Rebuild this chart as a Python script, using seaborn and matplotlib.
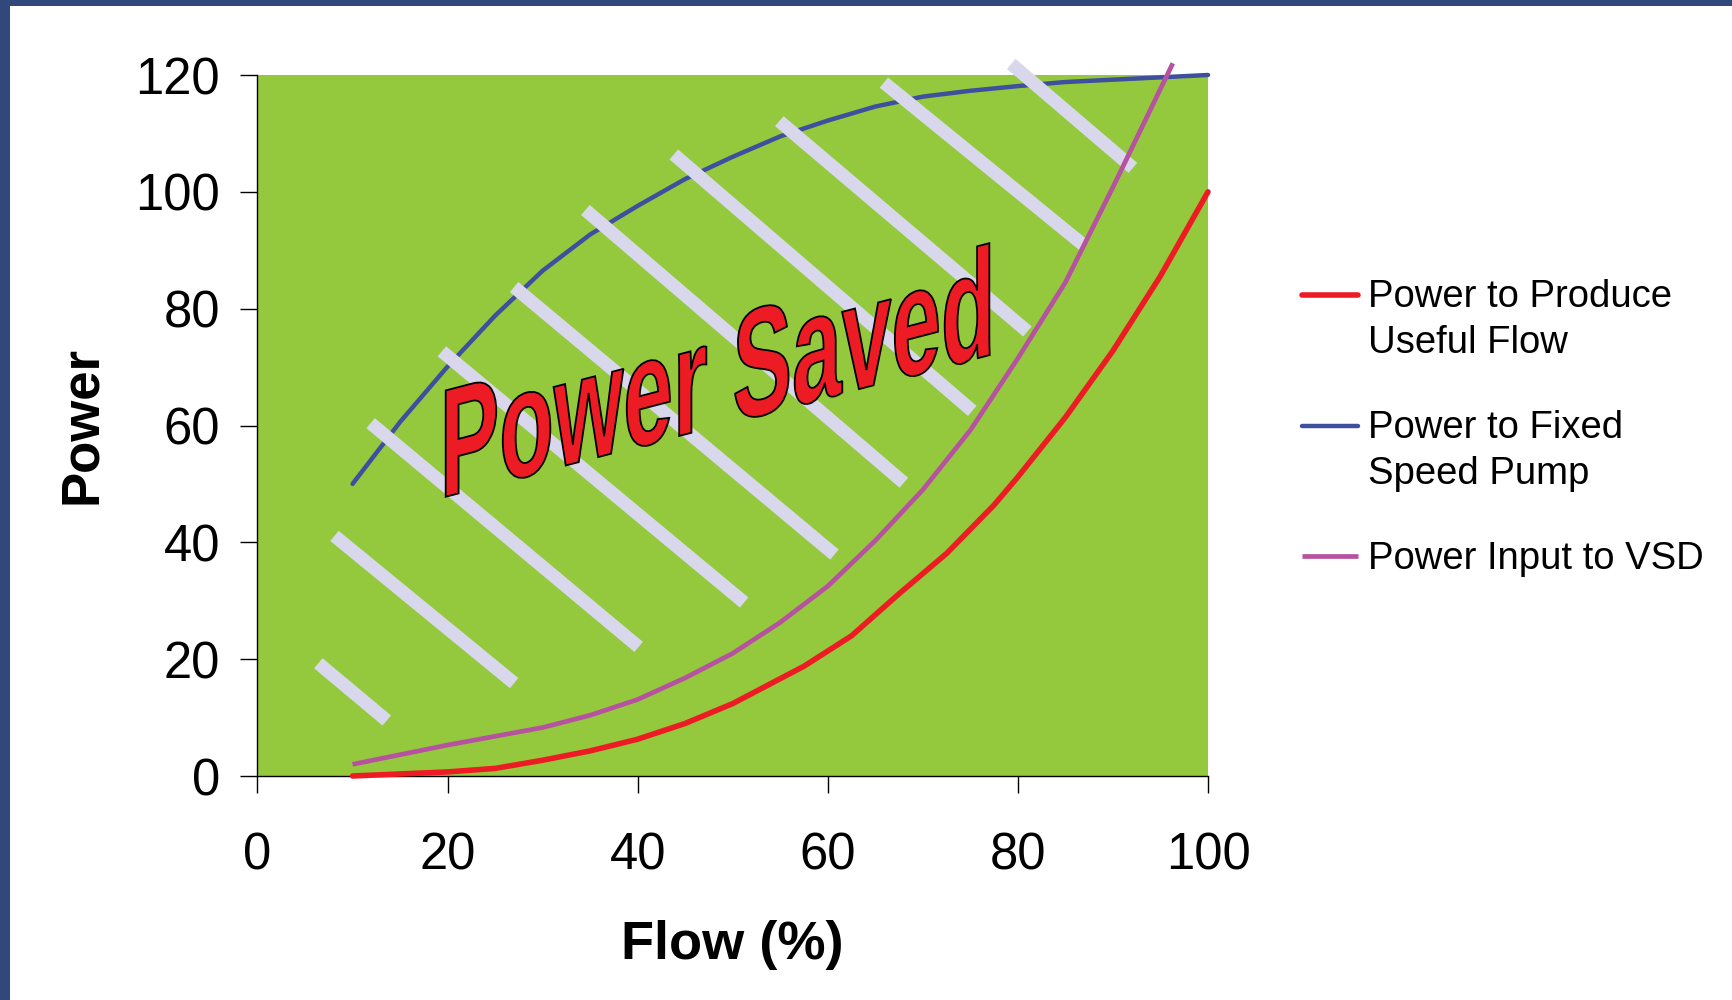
import matplotlib
matplotlib.use("Agg")
import matplotlib.pyplot as plt
import seaborn as sns
from matplotlib.patches import Rectangle, PathPatch
from matplotlib.textpath import TextPath
from matplotlib.font_manager import FontProperties
from matplotlib.transforms import Affine2D, ScaledTranslation

# Curve values
useful_flow = [10, 20, 25, 30, 35, 40, 45, 50, 57.5, 62.5, 67.5, 72.5, 77.5, 80, 85, 90, 95, 100]
useful_power = [0, 0.7, 1.3, 2.7, 4.3, 6.3, 9.0, 12.4, 18.8, 24.0, 31.2, 38.1, 46.4, 51.2, 61.4, 72.8, 85.6, 100]

fixed_flow = [10, 15, 20, 25, 30, 35, 40, 45, 50, 55, 60, 65, 70, 75, 80, 85, 90, 95, 100]
fixed_power = [50, 60.6, 70.1, 78.8, 86.5, 92.7, 97.6, 102.2, 106, 109.5, 112.2, 114.6,
               116.3, 117.3, 118.1, 118.8, 119.2, 119.6, 120]

vsd_flow = [10, 20, 30, 35, 40, 45, 50, 55, 60, 65, 70, 75, 80, 85, 90, 96.3]
vsd_power = [2, 5.3, 8.3, 10.4, 13.1, 16.8, 21, 26.3, 32.5, 40.3, 49, 59.2, 71.5, 84.5, 100.8, 122]

labels = ["Power to Produce\nUseful Flow", "Power to Fixed\nSpeed Pump", "Power Input to VSD"]
x_ticks = [0, 20, 40, 60, 80, 100]
y_ticks = [0, 20, 40, 60, 80, 100, 120]

# light diagonal stripes over the "saved" area (data coords)
stripe_x0 = [6.4, 8.1, 11.9, 19.4, 27.0, 34.5, 43.8, 54.9, 65.9, 79.3]
stripe_y0 = [19.3, 41.1, 60.4, 72.7, 83.7, 96.9, 106.4, 112.1, 118.7, 121.9]
stripe_x1 = [13.6, 27.0, 40.1, 51.2, 60.7, 68.0, 75.2, 81.0, 86.9, 92.1]
stripe_y1 = [9.5, 15.9, 22.1, 29.7, 37.9, 50.2, 62.5, 76.1, 90.9, 104.1]

sns.set_style("ticks")
plt.rcParams['font.family'] = ['Liberation Sans', 'DejaVu Sans']
plt.rcParams['text.color'] = 'black'
plt.rcParams['axes.labelcolor'] = 'black'

fig = plt.figure(figsize=(17.33, 10), dpi=100, facecolor='#31497a')
# white slide panel
fig.patches.append(Rectangle((10 / 1733, 0), 1, 1 - 6 / 1000, transform=fig.transFigure,
                             facecolor='white', edgecolor='none', zorder=-1))

ax = fig.add_axes([257.5 / 1733, 224 / 1000, 950.5 / 1733, 701 / 1000])
ax.set_facecolor('#95C93D')

sns.lineplot(x=useful_flow, y=useful_power, ax=ax, color='#ED1C24', linewidth=4.0,
             label=labels[0], solid_capstyle='round', zorder=3, clip_on=False)
sns.lineplot(x=fixed_flow, y=fixed_power, ax=ax, color='#3E4FA0', linewidth=3.2,
             label=labels[1], solid_capstyle='round', zorder=2, clip_on=False)
sns.lineplot(x=vsd_flow, y=vsd_power, ax=ax, color='#B652A0', linewidth=3.4,
             label=labels[2], solid_capstyle='butt', zorder=3, clip_on=False)

for xa, ya, xb, yb in zip(stripe_x0, stripe_y0, stripe_x1, stripe_y1):
    ax.plot([xa, xb], [ya, yb], color='#D8D7EC', linewidth=9.5,
            solid_capstyle='butt', zorder=2.5, clip_on=False)

ax.set_xlim(0, 100)
ax.set_ylim(0, 120)
ax.set_xticks(x_ticks)
ax.set_yticks(y_ticks)
ax.tick_params(direction='out', length=12, width=1, labelsize=36.5, colors='black')
ax.tick_params(axis='y', pad=15)
ax.tick_params(axis='x', pad=28)
sns.despine(ax=ax)
for s in ['left', 'bottom']:
    ax.spines[s].set_linewidth(1)
    ax.spines[s].set_color('black')

ax.set_xlabel("Flow (%)", fontsize=39, fontweight='bold')
ax.set_ylabel("Power", fontsize=38, fontweight='bold')
ax.xaxis.set_label_coords(0.5, -0.206)
ax.yaxis.set_label_coords(-0.158, 0.5)

leg = ax.legend(loc='upper left', bbox_to_anchor=(1302 / 1733, 1 - 279 / 1000),
                bbox_transform=fig.transFigure, frameon=False, fontsize=27.5,
                borderpad=0, borderaxespad=0, handlelength=1.47, handletextpad=0.25,
                labelspacing=1.3)
for t in leg.get_texts():
    t.set_linespacing(1.34)
    t.set_color('black')
# keep the handle on the first line of two-line labels
for line, lab in zip(leg.get_lines(), labels):
    if "\n" in lab:
        yd = line.get_ydata()
        line.set_ydata([v + 18.3 for v in yd])

# "Power Saved" word art
tp = TextPath((0, 0), "Power Saved", size=1,
              prop=FontProperties(family='Liberation Sans', weight='bold'))
ext = tp.get_extents()
art_trans = (Affine2D().translate(-ext.x0, 0)
             .scale(5.44 / ext.width, 1.12 / ext.y1)
             .skew_deg(0, 14.6)
             + fig.dpi_scale_trans
             + ScaledTranslation(19.8, 47.8, ax.transData))
fig.add_artist(PathPatch(tp, transform=art_trans, facecolor='#ED1C24',
                         edgecolor='black', linewidth=1.3, zorder=5))

fig.savefig("out.png", dpi=100, facecolor=fig.get_facecolor())
